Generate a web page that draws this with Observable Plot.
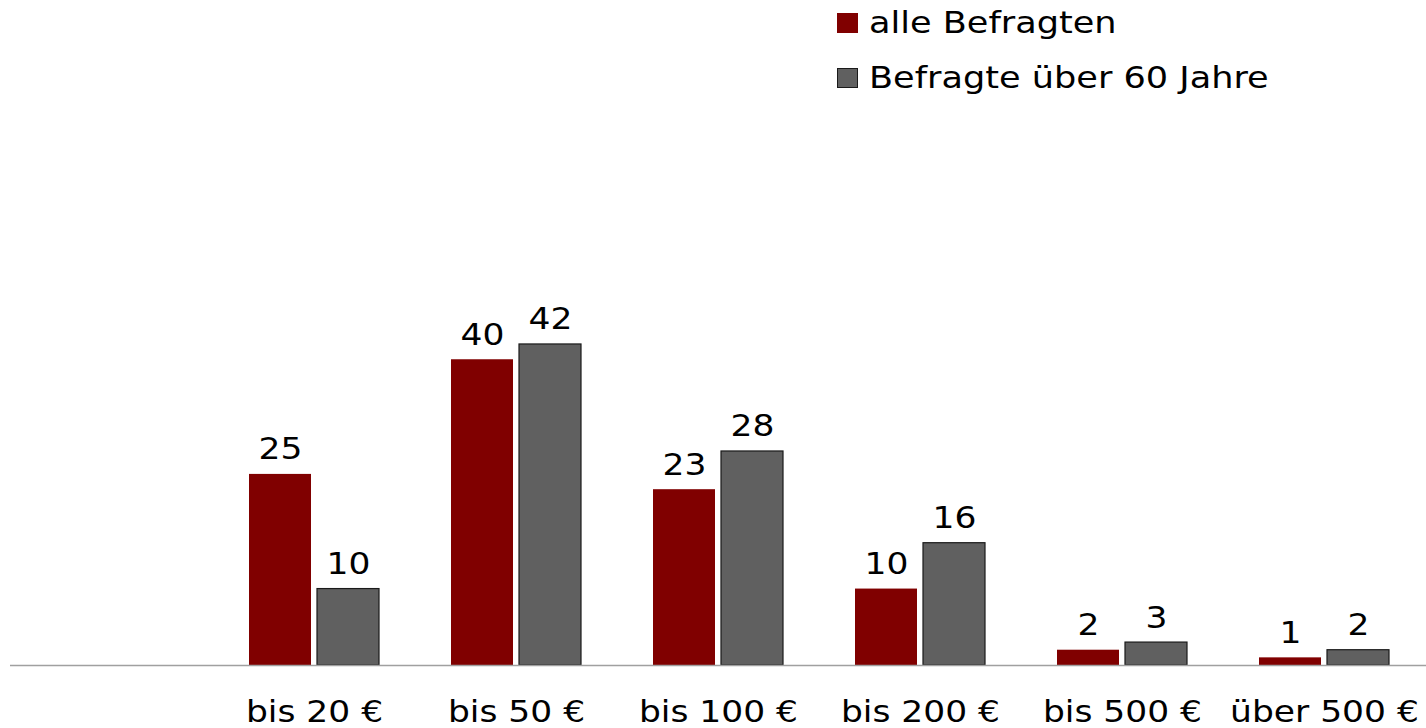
<!DOCTYPE html>
<html>
<head>
<meta charset="utf-8">
<script src="https://cdn.jsdelivr.net/npm/d3@7"></script>
<script src="https://cdn.jsdelivr.net/npm/@observablehq/plot@0.6"></script>
<style>
  html, body { margin: 0; padding: 0; background: #fff; }
  body { font-family: "DejaVu Sans", Verdana, sans-serif; }
  #wrap { position: relative; width: 1426px; height: 728px; overflow: hidden; }
  #legend { position: absolute; left: 837px; top: 6px; }
  .item { display: flex; align-items: center; height: 34px; margin-bottom: 20.5px; }
  .sw { width: 21px; height: 20px; box-sizing: border-box; margin-right: 11px; flex: none; }
  .lab { font-size: 30px; line-height: 34px; color: #000; white-space: nowrap; display: inline-block; transform: scaleX(1.17); transform-origin: left center; }
</style>
</head>
<body>
<div id="wrap">
  <div id="chart"></div>
  <div id="legend"></div>
</div>
<script>
// ---- data ----
const categories = ["bis 20 €", "bis 50 €", "bis 100 €", "bis 200 €", "bis 500 €", "über 500 €"];
const alleBefragten = [25, 40, 23, 10, 2, 1];
const befragteUeber60 = [10, 42, 28, 16, 3, 2];
const seriesNames = ["alle Befragten", "Befragte über 60 Jahre"];
const seriesColors = ["#800000", "#606060"];

const rows = categories.map((c, i) => ({cat: c, a: alleBefragten[i], b: befragteUeber60[i]}));

const STRETCH = 1.15;

const chart = Plot.plot({
  width: 1426,
  height: 728,
  marginTop: 0,
  marginLeft: 10,
  marginRight: 0,
  marginBottom: 63,
  style: {fontFamily: "DejaVu Sans, Verdana, sans-serif", fontSize: "30px", color: "#000", background: "#fff", overflow: "visible"},
  x: {domain: [" ", ...categories], paddingInner: 0.355, paddingOuter: 0.1775, align: 0.5, label: null, tickSize: 0, tickPadding: 35},
  y: {domain: [0, 87], axis: null},
  marks: [
    Plot.barY(rows, {x: "cat", y: "a", fill: seriesColors[0], insetRight: 68}),
    Plot.barY(rows, {x: "cat", y: "b", fill: seriesColors[1], stroke: "#1a1a1a", strokeWidth: 1.2, insetLeft: 68}),
    Plot.ruleY([0], {stroke: "#a0a0a0", strokeWidth: 1.5}),
    Plot.text(rows, {x: "cat", y: "a", text: "a", dx: -34, dy: -15, lineAnchor: "bottom", fontSize: 30, fill: "#000"}),
    Plot.text(rows, {x: "cat", y: "b", text: "b", dx: 34, dy: -15, lineAnchor: "bottom", fontSize: 30, fill: "#000"})
  ]
});
document.getElementById("chart").appendChild(chart);

// horizontally stretch texts around their own centre (reference glyphs are wide)
chart.querySelectorAll("text").forEach(t => {
  if (!t.textContent.trim()) return;
  const bb = t.getBBox();
  const cx = bb.x + bb.width / 2;
  const prev = t.getAttribute("transform") || "";
  t.setAttribute("transform", `${prev} translate(${cx},0) scale(${STRETCH},1) translate(${-cx},0)`.trim());
});

// legend
const legend = document.getElementById("legend");
seriesNames.forEach((name, i) => {
  const item = document.createElement("div");
  item.className = "item";
  const sw = document.createElement("span");
  sw.className = "sw";
  sw.style.background = seriesColors[i];
  if (i === 1) sw.style.border = "1.2px solid #1a1a1a";
  const lab = document.createElement("span");
  lab.className = "lab";
  lab.textContent = name;
  item.appendChild(sw);
  item.appendChild(lab);
  legend.appendChild(item);
});
</script>
</body>
</html>
